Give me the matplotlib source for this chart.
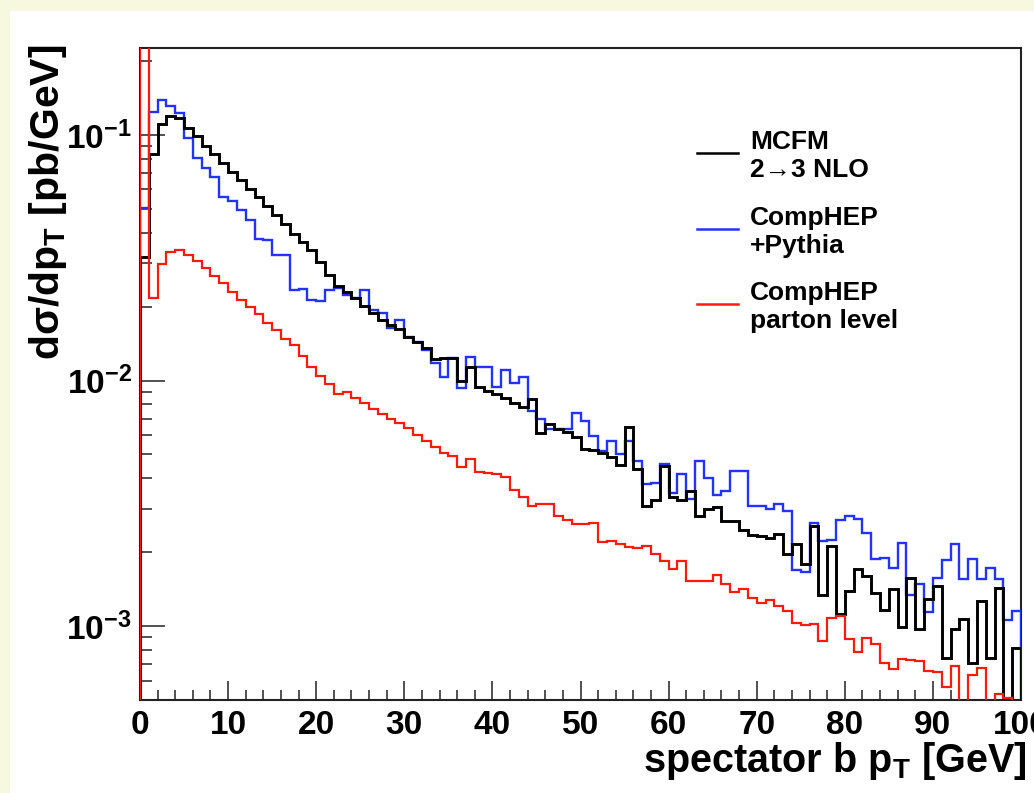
import numpy as np
import matplotlib
matplotlib.use("Agg")
import matplotlib.pyplot as plt
from matplotlib.patches import Rectangle
from matplotlib.lines import Line2D
from matplotlib.ticker import FixedLocator, FixedFormatter, NullFormatter

# ---- data: spectator b-quark pT spectra, 1 GeV bins from 0 to 100 GeV ----
pt_edges = np.linspace(0.0, 100.0, 101)

mcfm_nlo = [0.0318, 0.0837, 0.1109, 0.1196, 0.1173, 0.1068, 0.0991, 0.0902, 0.0837, 0.0769,
            0.0706, 0.0655, 0.0602, 0.0558, 0.0513, 0.0472, 0.0433, 0.0394, 0.0366, 0.0339,
            0.0303, 0.0268, 0.0242, 0.0229, 0.0216, 0.0202, 0.0188, 0.0176, 0.0168, 0.0162,
            0.0150, 0.0143, 0.0136, 0.0122, 0.0123, 0.0123, 0.00991, 0.0113, 0.00945, 0.00910,
            0.00885, 0.00852, 0.00813, 0.00783, 0.00844, 0.00614, 0.00668, 0.00637, 0.00619, 0.00591,
            0.00528, 0.00523, 0.00508, 0.00490, 0.00454, 0.00649, 0.00437, 0.00309, 0.00327, 0.00450,
            0.00336, 0.00327, 0.00356, 0.00281, 0.00300, 0.00306, 0.00268, 0.00268, 0.00247, 0.00235,
            0.00233, 0.00229, 0.00237, 0.00197, 0.00216, 0.00179, 0.00256, 0.00134, 0.00212, 0.00112,
            0.00139, 0.00171, 0.00160, 0.00136, 0.00116, 0.00142, 0.000991, 0.00157, 0.000972, 0.00129,
            0.00146, 0.000740, 0.000972, 0.00107, 0.000706, 0.00127, 0.000740, 0.00143, 0.0, 0.000813]

comphep_pythia = [0.0504, 0.1241, 0.139, 0.1313, 0.123, 0.0972, 0.0806, 0.0733, 0.0674, 0.0558,
                  0.0538, 0.0494, 0.0450, 0.0376, 0.0373, 0.0324, 0.0324, 0.0233, 0.0235, 0.0212,
                  0.0210, 0.0233, 0.0237, 0.0222, 0.0216, 0.0233, 0.0193, 0.0188, 0.0164, 0.0176,
                  0.0150, 0.0143, 0.0133, 0.0118, 0.0103, 0.0123, 0.00936, 0.0125, 0.0113, 0.0113,
                  0.00945, 0.0110, 0.00981, 0.0103, 0.00754, 0.00700, 0.00637, 0.00637, 0.00637, 0.00740,
                  0.00686, 0.00596, 0.00518, 0.00569, 0.00504, 0.00569, 0.00472, 0.00380, 0.00383, 0.00458,
                  0.00349, 0.00417, 0.00330, 0.00472, 0.00402, 0.00342, 0.00356, 0.00429, 0.00429, 0.00309,
                  0.00309, 0.00300, 0.00315, 0.00295, 0.00169, 0.00166, 0.00263, 0.00222, 0.00224, 0.00271,
                  0.00281, 0.00273, 0.00240, 0.00188, 0.00190, 0.00173, 0.00218, 0.00134, 0.00148, 0.00114,
                  0.00157, 0.00186, 0.00216, 0.00156, 0.00188, 0.00156, 0.00173, 0.00156, 0.00106, 0.00115]

comphep_parton = [0.30, 0.0216, 0.0297, 0.0333, 0.0339, 0.0324, 0.0306, 0.0287, 0.0266, 0.0249,
                  0.0229, 0.0212, 0.0199, 0.0186, 0.0172, 0.0160, 0.0148, 0.0139, 0.0126, 0.0114,
                  0.0104, 0.00972, 0.00885, 0.00902, 0.00852, 0.00813, 0.00769, 0.00733, 0.00700, 0.00674,
                  0.00643, 0.00602, 0.00569, 0.00538, 0.00508, 0.00494, 0.00446, 0.00480, 0.00425, 0.00421,
                  0.00417, 0.00406, 0.00359, 0.00336, 0.00309, 0.00315, 0.00315, 0.00281, 0.00271, 0.00261,
                  0.00261, 0.00263, 0.00220, 0.00222, 0.00216, 0.00210, 0.00208, 0.00212, 0.00197, 0.00184,
                  0.00171, 0.00184, 0.00153, 0.00153, 0.00153, 0.00161, 0.00148, 0.00138, 0.00142, 0.00130,
                  0.00124, 0.00128, 0.00121, 0.00115, 0.00103, 0.00101, 0.00102, 0.000869, 0.00108, 0.00110,
                  0.000885, 0.000783, 0.000893, 0.000844, 0.000706, 0.000668, 0.000733, 0.000726, 0.000720, 0.000655,
                  0.000649, 0.000564, 0.000686, 0.0, 0.000631, 0.000674, 0.0, 0.000528, 0.000508, 0.0]

x_ticks = [0, 10, 20, 30, 40, 50, 60, 70, 80, 90, 100]
x_tick_labels = ["0", "10", "20", "30", "40", "50", "60", "70", "80", "90", "100"]
y_ticks = [1e-3, 1e-2, 1e-1]
y_tick_labels = [r"$\mathbf{10^{-3}}$", r"$\mathbf{10^{-2}}$", r"$\mathbf{10^{-1}}$"]

legend_labels = ["MCFM\n2\u21923 NLO", "CompHEP\n+Pythia", "CompHEP\nparton level"]

# ---- style ----
plt.rcParams["font.family"] = ["Liberation Sans", "DejaVu Sans"]
plt.rcParams["font.weight"] = "bold"
plt.rcParams["mathtext.fontset"] = "custom"
plt.rcParams["mathtext.rm"] = "Liberation Sans:bold"
plt.rcParams["mathtext.bf"] = "Liberation Sans:bold"
plt.rcParams["mathtext.it"] = "Liberation Sans:bold"
plt.rcParams["axes.unicode_minus"] = True

W, H = 1034, 793
fig = plt.figure(figsize=(W / 100, H / 100), dpi=100, facecolor="#f6f9df")
fig.add_artist(Rectangle((10 / W, 0), 1 - 10 / W, 1 - 11 / H, transform=fig.transFigure,
                         facecolor="white", edgecolor="none", zorder=-5))

ax = fig.add_axes([140 / W, 93 / H, 881 / W, 652 / H])
ax.set_facecolor("white")
ax.set_yscale("log", nonpositive="clip")
ax.set_xlim(0, 100)
y_low, y_high = 5e-4, 0.226
ax.set_ylim(y_low, y_high)

# histogram outlines drop to the frame floor at both ends
colors = {"mcfm": "#000000", "pythia": "#2233ff", "parton": "#ff1a0a"}
ax.stairs(comphep_pythia, pt_edges, baseline=y_low, color=colors["pythia"], lw=1.7, zorder=3)
ax.stairs(mcfm_nlo, pt_edges, baseline=y_low, color=colors["mcfm"], lw=2.1, zorder=4)
ax.stairs(comphep_parton, pt_edges, baseline=y_low, color=colors["parton"], lw=1.6, zorder=5)

# ---- axes frame and ticks ----
for s in ax.spines.values():
    s.set_color("#222222")
    s.set_linewidth(1.5)
    s.set_zorder(2)

ax.xaxis.set_major_locator(FixedLocator(x_ticks))
ax.xaxis.set_major_formatter(FixedFormatter(x_tick_labels))
ax.xaxis.set_minor_locator(FixedLocator(list(range(0, 101, 2))))
ax.xaxis.set_minor_formatter(NullFormatter())

ax.yaxis.set_major_locator(FixedLocator(y_ticks))
ax.yaxis.set_major_formatter(FixedFormatter(y_tick_labels))
minor_y = [k * 10.0 ** e for e in (-4, -3, -2, -1) for k in range(2, 10)]
ax.yaxis.set_minor_locator(FixedLocator(minor_y))
ax.yaxis.set_minor_formatter(NullFormatter())

ax.tick_params(axis="x", which="major", direction="in", length=14, width=1.1,
               color="#222222", labelsize=24, pad=7, top=False)
ax.tick_params(axis="x", which="minor", direction="in", length=7, width=1.1,
               color="#222222", top=False)
ax.tick_params(axis="y", which="major", direction="in", length=18, width=1.1,
               color="#222222", labelsize=24, pad=6, right=False)
ax.tick_params(axis="y", which="minor", direction="in", length=8.5, width=1.1,
               color="#222222", right=False)

# ---- axis titles ----
fig.text(1027 / W, 1 - 772 / H, r"spectator b p$_{\mathbf{T}}$ [GeV]", ha="right",
         va="baseline", fontsize=28.5, fontweight="bold")
fig.text(48 / W, 1 - 45 / H, "d\u03c3/dp$_{\\mathbf{T}}$ [pb/GeV]", rotation=90,
         ha="center", va="top", fontsize=29.5, fontweight="bold")

# ---- legend ----
legend_y = [153, 229, 304]
for lab, key, yy in zip(legend_labels, ["mcfm", "pythia", "parton"], legend_y):
    fig.add_artist(Line2D([697 / W, 738 / W], [1 - yy / H, 1 - yy / H],
                          transform=fig.transFigure, color=colors[key], lw=1.8))
    fig.text(750 / W, 1 - (yy + 3) / H, lab, ha="left", va="center", fontsize=19,
             fontweight="bold", linespacing=1.25)

fig.savefig("out.png", dpi=100, facecolor=fig.get_facecolor())
